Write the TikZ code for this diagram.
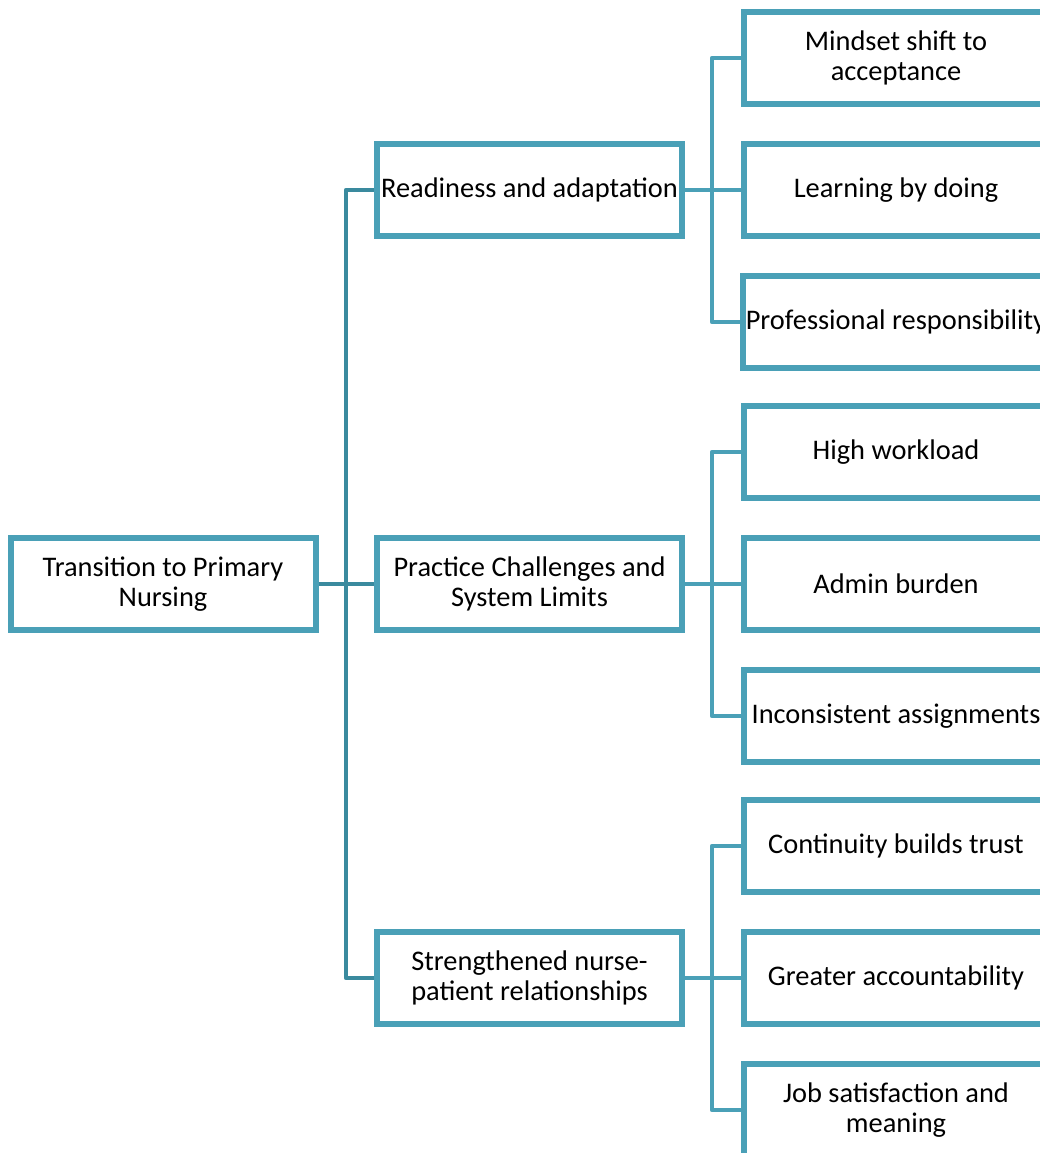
\documentclass[tikz,border=0pt]{standalone}
\usepackage{fontspec}
\setmainfont{Carlito}
\usepackage{tikz}
\usetikzlibrary{positioning, calc}

\definecolor{boxline}{HTML}{4AA0B7}
\definecolor{rootline}{HTML}{3A8A9E}

\begin{document}
\begin{tikzpicture}[x=0.5pt, y=-0.5pt,
    theme/.style={draw=boxline, line width=2pt, fill=white, align=center,
        minimum width=151.5pt, minimum height=45pt, inner sep=1pt,
        font=\fontsize{14.2}{15}\selectfont},
    trunk/.style={draw=rootline, line width=2.2pt, line join=round},
    branch/.style={draw=boxline, line width=2.2pt, line join=round}]
            \clip (0,0) rectangle (1040,1153);
            \fill[white] (0,0) rectangle (1040,1153);
            % root and main themes
            \node[theme] (root) at (163,584) {Transition to Primary\\Nursing};
            \node[theme] (ready) at (529.5,190) {Readiness and adaptation};
            \node[theme] (chall) at (529.5,584) {Practice Challenges and\\System Limits};
            \node[theme] (bond) at (529.5,978) {Strengthened nurse-\\patient relationships};
            % subthemes
            \node[theme] (mind) at (896,58) {Mindset shift to\\acceptance};
            \node[theme] (learn) at (896,190) {Learning by doing};
            \node[theme] (resp) at (896,322) {Professional responsibility};
            \node[theme] (load) at (896,452) {High workload};
            \node[theme] (admin) at (896,584) {Admin burden};
            \node[theme] (assign) at (896,716) {Inconsistent assignments};
            \node[theme] (trust) at (896,846) {Continuity builds trust};
            \node[theme] (account) at (896,978) {Greater accountability};
            \node[theme] (job) at (896,1110) {Job satisfaction and\\meaning};
            % junction points
            \coordinate (rj) at (346,584);
            \coordinate (sj) at (712,584);
            % trunk from root
            \draw[trunk] (ready.west) -| (rj |- bond.west) -- (bond.west);
            \draw[trunk] (root.east) -- (chall.west);
            % branches to subthemes
            \draw[branch] (mind.west) -| (sj |- resp.west) -- (resp.west);
            \draw[branch] (ready.east) -- (learn.west);
            \draw[branch] (load.west) -| (sj |- assign.west) -- (assign.west);
            \draw[branch] (chall.east) -- (admin.west);
            \draw[branch] (trust.west) -| (sj |- job.west) -- (job.west);
            \draw[branch] (bond.east) -- (account.west);
            % boxes on top of the lines
            \foreach \n in {root, ready, chall, bond, mind, learn, resp, load,
                admin, assign, trust, account, job}
                \draw[boxline, line width=2pt] (\n.north west) rectangle (\n.south east);
        \end{tikzpicture}
\end{document}
